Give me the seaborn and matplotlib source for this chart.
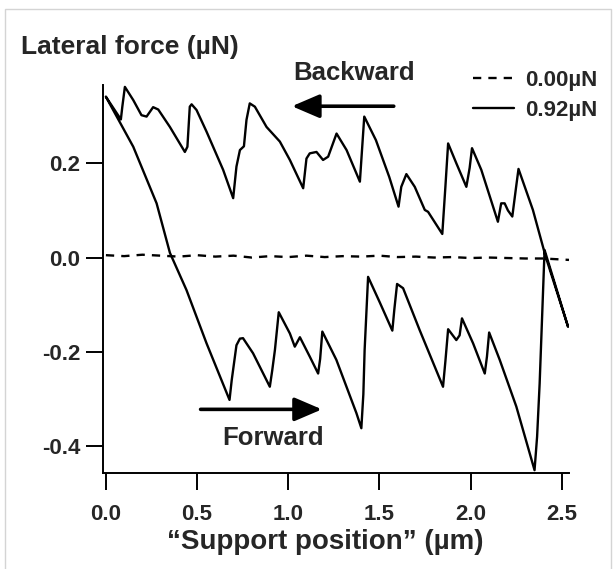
import numpy as np
import pandas as pd
import matplotlib
matplotlib.use("Agg")
import matplotlib.pyplot as plt
import seaborn as sns
from matplotlib.patches import Rectangle

# forward scan (support moving right)
forward_x = [0.000, 0.150, 0.278, 0.351, 0.442, 0.552, 0.678, 0.690, 0.716, 0.735, 0.752,
             0.807, 0.899, 0.912, 0.927, 0.948, 1.009, 1.036, 1.064, 1.118, 1.164, 1.175,
             1.187, 1.264, 1.374, 1.401, 1.412, 1.419, 1.438, 1.502, 1.571, 1.582, 1.597,
             1.630, 1.721, 1.849, 1.862, 1.877, 1.922, 1.940, 1.953, 2.014, 2.078, 2.090,
             2.102, 2.160, 2.251, 2.351, 2.365, 2.379, 2.406]
forward_y = [0.341, 0.235, 0.115, 0.010, -0.069, -0.182, -0.302, -0.260, -0.186, -0.172, -0.171,
             -0.203, -0.274, -0.240, -0.196, -0.116, -0.161, -0.189, -0.169, -0.210, -0.246, -0.215,
             -0.157, -0.217, -0.330, -0.362, -0.290, -0.196, -0.041, -0.095, -0.155, -0.110, -0.056,
             -0.065, -0.154, -0.274, -0.220, -0.152, -0.175, -0.165, -0.129, -0.182, -0.246, -0.210,
             -0.159, -0.217, -0.316, -0.451, -0.380, -0.267, 0.016]

# backward scan (support moving left), from the right end back to 0
backward_x = [2.535, 2.412, 2.342, 2.263, 2.250, 2.229, 2.205, 2.187, 2.168, 2.150, 2.059,
              2.008, 1.995, 1.977, 1.922, 1.877, 1.862, 1.845, 1.767, 1.749, 1.694, 1.648,
              1.620, 1.605, 1.554, 1.481, 1.417, 1.405, 1.393, 1.320, 1.265, 1.219, 1.191,
              1.155, 1.118, 1.100, 1.082, 1.009, 0.954, 0.881, 0.817, 0.789, 0.771, 0.757,
              0.735, 0.716, 0.698, 0.643, 0.552, 0.497, 0.470, 0.460, 0.447, 0.433, 0.351,
              0.287, 0.259, 0.223, 0.195, 0.150, 0.104, 0.090, 0.082, 0.000]
backward_y = [-0.147, 0.002, 0.101, 0.188, 0.150, 0.087, 0.100, 0.115, 0.115, 0.076, 0.186,
              0.232, 0.190, 0.150, 0.200, 0.242, 0.150, 0.050, 0.097, 0.101, 0.150, 0.177,
              0.150, 0.108, 0.171, 0.249, 0.299, 0.230, 0.161, 0.228, 0.263, 0.214, 0.207,
              0.224, 0.221, 0.210, 0.147, 0.207, 0.246, 0.277, 0.320, 0.327, 0.292, 0.236,
              0.228, 0.193, 0.126, 0.186, 0.267, 0.313, 0.325, 0.320, 0.235, 0.224, 0.277,
              0.314, 0.319, 0.299, 0.302, 0.334, 0.362, 0.320, 0.293, 0.341]

# zero load reference trace
zero_x = [0.00, 0.10, 0.20, 0.30, 0.40, 0.50, 0.60, 0.70, 0.80, 0.90, 1.00, 1.10, 1.20,
          1.30, 1.40, 1.50, 1.60, 1.70, 1.80, 1.90, 2.00, 2.10, 2.20, 2.30, 2.40, 2.54]
zero_y = [0.005, 0.003, 0.006, 0.004, 0.002, 0.005, 0.002, 0.004, 0.000, 0.003, 0.001, 0.004, 0.001,
          0.003, 0.002, 0.004, 0.001, 0.002, 0.000, 0.001, -0.001, 0.000, -0.001, -0.002, -0.002, -0.005]

loop = pd.DataFrame({"x": forward_x + backward_x, "y": forward_y + backward_y})
zero = pd.DataFrame({"x": zero_x, "y": zero_y})

sns.set_theme(style="ticks")
plt.rcParams["font.family"] = ["Liberation Sans", "DejaVu Sans"]
plt.rcParams["font.weight"] = "bold"

W, H = 615, 569
fig = plt.figure(figsize=(W / 100, H / 100), dpi=100)
ax = fig.add_axes([103 / W, 1 - 473 / H, (569 - 103) / W, (473 - 85) / H])

sns.lineplot(data=zero, x="x", y="y", ax=ax, color="black", lw=1.7, sort=False,
             estimator=None, label="0.00\u00b5N", dashes=False, linestyle=(0, (3.5, 3)))
sns.lineplot(data=loop, x="x", y="y", ax=ax, color="black", lw=1.7, sort=False,
             estimator=None, label="0.92\u00b5N")

ax.set_xlim(-0.016, 2.54)
ax.set_ylim(-0.457, 0.366)
ax.set_xticks([0.0, 0.5, 1.0, 1.5, 2.0, 2.5])
ax.set_yticks([-0.4, -0.2, 0.0, 0.2])
ax.xaxis.set_major_formatter(matplotlib.ticker.FormatStrFormatter("%.1f"))
ax.yaxis.set_major_formatter(matplotlib.ticker.FormatStrFormatter("%.1f"))
sns.despine(ax=ax)
for s in ["left", "bottom"]:
    ax.spines[s].set_linewidth(1.4)
    ax.spines[s].set_color("black")
ax.tick_params(axis="both", length=12.5, width=1.4, color="black", labelsize=16)
ax.tick_params(axis="x", pad=10)
ax.tick_params(axis="y", pad=4)
for lab in ax.get_xticklabels() + ax.get_yticklabels():
    lab.set_fontweight("bold")

ax.set_xlabel("\u201cSupport position\u201d (\u00b5m)", fontsize=20, fontweight="bold")
ax.xaxis.set_label_coords(0.476, -0.145)
ax.set_ylabel("")
fig.text(21 / W, 1 - 54 / H, "Lateral force (\u00b5N)", fontsize=19, fontweight="bold",
         ha="left", va="baseline")

# direction arrows and labels
ax.annotate("", xy=(1.005, 0.321), xytext=(1.594, 0.321),
            arrowprops=dict(arrowstyle="-|>,head_length=1.4,head_width=0.6", lw=2.6, color="black"))
ax.text(1.36, 0.376, "Backward", fontsize=18.5, fontweight="bold", ha="center", va="baseline")
ax.annotate("", xy=(1.20, -0.322), xytext=(0.504, -0.322),
            arrowprops=dict(arrowstyle="-|>,head_length=1.4,head_width=0.6", lw=2.6, color="black"))
ax.text(0.916, -0.398, "Forward", fontsize=18.5, fontweight="bold", ha="center", va="baseline")

leg = ax.legend(loc="upper left", bbox_to_anchor=(462 / W, 1 - 59 / H),
                bbox_transform=fig.transFigure, frameon=False, fontsize=16,
                handlelength=1.85, handletextpad=0.5, labelspacing=0.4, borderpad=0)
for t in leg.get_texts():
    t.set_fontweight("bold")

# light frame around the figure
fig.patches.append(Rectangle((5 / W, -0.01), (611 - 5) / W, 1 - 9 / H + 0.01,
                             transform=fig.transFigure, fill=False, edgecolor="#d4d4d4", lw=1))

fig.savefig("out.png", dpi=100)
